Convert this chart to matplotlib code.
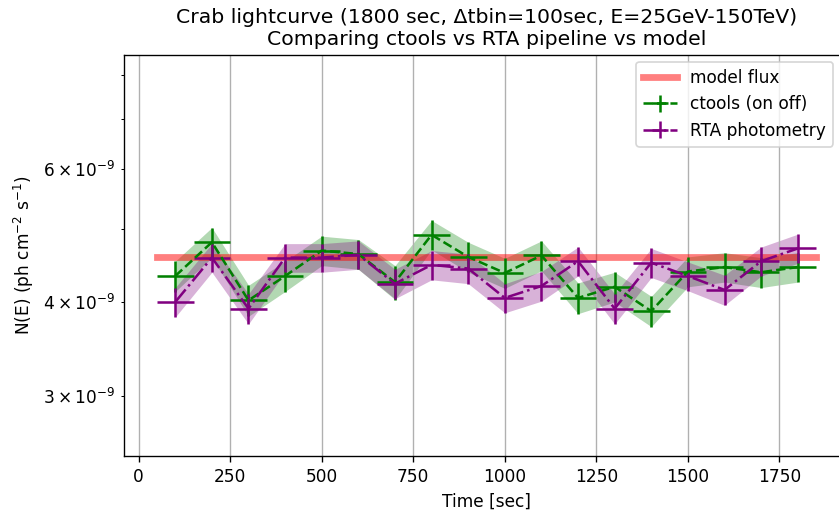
import matplotlib
matplotlib.use("Agg")
import matplotlib.pyplot as plt
import numpy as np

# Data (flux in ph cm^-2 s^-1)
times = [100, 200, 300, 400, 500, 600, 700, 800, 900, 1000,
         1100, 1200, 1300, 1400, 1500, 1600, 1700, 1800]
tbin_half = 50
model_flux = 4.59e-9
model_t = [50, 1850]

ctools_flux = [4.33, 4.80, 4.02, 4.33, 4.68, 4.63, 4.25, 4.91, 4.59, 4.37,
               4.61, 4.05, 4.19, 3.89, 4.39, 4.45, 4.38, 4.45]
ctools_err = [0.20, 0.22, 0.19, 0.20, 0.21, 0.21, 0.22, 0.22, 0.21, 0.20,
              0.21, 0.19, 0.19, 0.18, 0.20, 0.20, 0.20, 0.20]
rta_flux = [4.00, 4.58, 3.92, 4.58, 4.58, 4.62, 4.23, 4.48, 4.43, 4.05,
            4.20, 4.53, 3.92, 4.51, 4.33, 4.15, 4.53, 4.71]
rta_err = [0.18, 0.20, 0.18, 0.20, 0.20, 0.20, 0.19, 0.20, 0.20, 0.18,
           0.19, 0.20, 0.18, 0.20, 0.19, 0.19, 0.20, 0.21]

x_ticks = [0, 250, 500, 750, 1000, 1250, 1500, 1750]
y_minor_ticks = [3e-9, 4e-9, 5e-9, 6e-9, 7e-9, 8e-9]
y_minor_labels = [r"$\mathdefault{3\times10^{-9}}$", r"$\mathdefault{4\times10^{-9}}$", "",
                  r"$\mathdefault{6\times10^{-9}}$", "", ""]

scale = 1e-9
t = np.array(times)
cf = np.array(ctools_flux) * scale
ce = np.array(ctools_err) * scale
rf = np.array(rta_flux) * scale
re_ = np.array(rta_err) * scale

DPI = 122
W, H = 839, 512
fig = plt.figure(figsize=(W / DPI, H / DPI), dpi=DPI)
ax = fig.add_axes([124 / W, (H - 456) / H, (849 - 124) / W, (456 - 55) / H])

ax.plot(model_t, [model_flux, model_flux], color="red", alpha=0.5, lw=4,
        label="model flux")

ax.errorbar(t, cf, yerr=ce, xerr=tbin_half, color="green", ls="--", lw=1.5,
            elinewidth=1.5, label="ctools (on off)")
ax.fill_between(t, cf - ce, cf + ce, color="green", alpha=0.3, lw=0)

ax.errorbar(t, rf, yerr=re_, xerr=tbin_half, color="purple", ls="-.", lw=1.5,
            elinewidth=1.5, label="RTA photometry")
ax.fill_between(t, rf - re_, rf + re_, color="purple", alpha=0.3, lw=0)

ax.set_yscale("log")
ax.set_xlim(-40, 1940)
ax.set_ylim(2.5e-9, 8.5e-9)
ax.set_xticks(x_ticks)
ax.set_yticks([], minor=False)
ax.set_yticks(y_minor_ticks, minor=True)
ax.set_yticklabels(y_minor_labels, minor=True)
ax.grid(True, axis="x")

ax.set_xlabel("Time [sec]")
ax.set_ylabel("N(E) (ph cm$^{-2}$ s$^{-1}$)")
ax.set_title("Crab lightcurve (1800 sec, \u0394tbin=100sec, E=25GeV-150TeV)\n"
             "Comparing ctools vs RTA pipeline vs model")

ax.legend(loc="upper right", bbox_to_anchor=(833 / W, 1 - 62 / H),
          bbox_transform=fig.transFigure, borderaxespad=0)

fig.savefig("out.png", dpi=DPI)
